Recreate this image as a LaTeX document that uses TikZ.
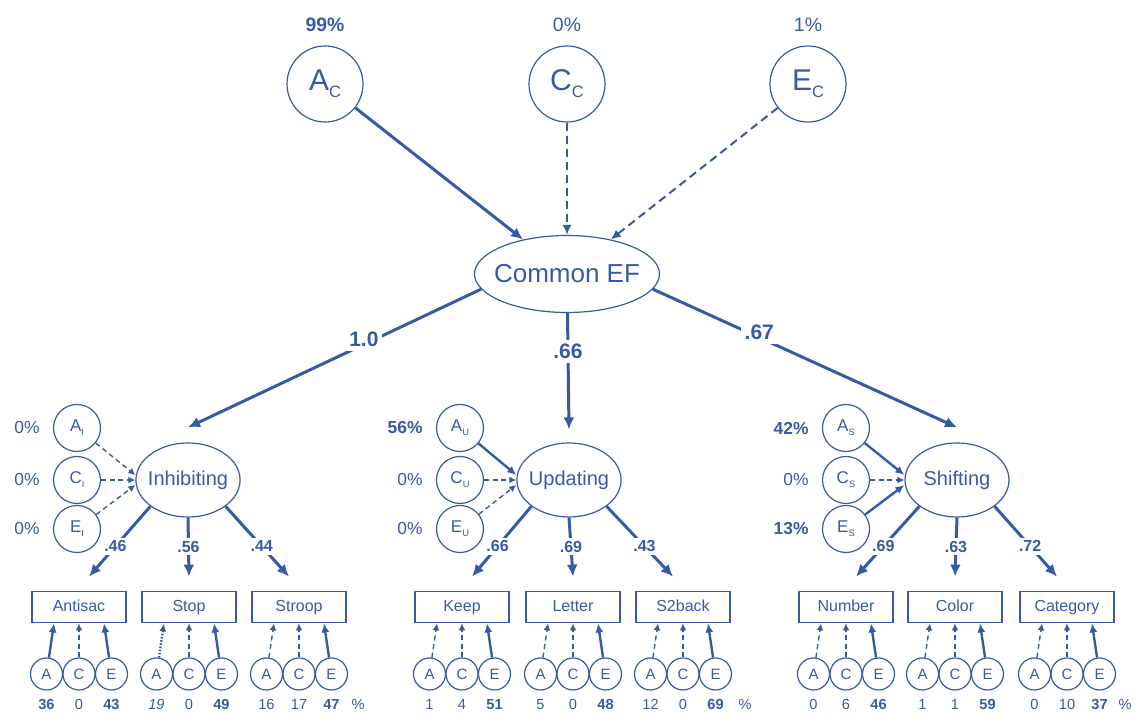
\documentclass[tikz,border=0pt]{standalone}
\usepackage{fontspec}
\setmainfont{Liberation Sans}
\usetikzlibrary{positioning,arrows.meta,shapes.geometric}
\definecolor{efblue}{RGB}{56,89,166}
\newcommand{\lowsub}[1]{\raisebox{-0.45ex}{\scalebox{0.55}{#1}}}
\tikzset{
  latent/.style={ellipse, draw, line width=0.6pt, inner sep=0pt},
  topvar/.style={circle, draw, line width=0.6pt, inner sep=0pt, minimum size=38pt, font=\fontsize{15}{15}\selectfont},
  common/.style={latent, minimum width=92.5pt, minimum height=38.5pt, inner xsep=-4pt, font=\fontsize{13}{13}\selectfont},
  factor/.style={latent, minimum width=52pt, minimum height=37pt, inner xsep=-1.6pt, font=\fontsize{10}{11}\selectfont},
  facvar/.style={circle, draw, line width=0.6pt, minimum size=23.5pt, inner sep=0pt, font=\fontsize{8.5}{9}\selectfont},
  task/.style={rectangle, draw, line width=0.9pt, minimum width=47pt, minimum height=15.5pt, inner sep=0pt, text height=6.5pt, text depth=1.8pt, font=\fontsize{8}{9}\selectfont},
  ace/.style={circle, draw, line width=0.6pt, minimum size=16pt, inner sep=0pt, font=\fontsize{7.5}{8}\selectfont},
  num/.style={anchor=base, inner sep=0pt, font=\fontsize{7.3}{8}\selectfont},
  pct/.style={inner sep=0pt, font=\fontsize{8.7}{9}\selectfont},
  toppct/.style={inner sep=0pt, font=\fontsize{9.7}{10}\selectfont},
  pathwt/.style={fill=white, inner sep=2pt, font=\bfseries\fontsize{10.5}{11}\selectfont},
  loadwt/.style={fill=white, inner sep=1.5pt, font=\bfseries\fontsize{8}{9}\selectfont},
  heavy/.style={line width=1.5pt, -{Latex[length=6pt,width=5.5pt]}},
  topns/.style={line width=1pt, dash pattern=on 4pt off 2.5pt, -{Latex[length=5pt,width=4.5pt]}},
  sigarrow/.style={line width=1.2pt, -{Latex[length=4.5pt,width=4pt]}},
  nsarrow/.style={line width=0.7pt, dash pattern=on 2.5pt off 1.8pt, -{Latex[length=3.5pt,width=3.5pt]}},
  dotarrow/.style={line width=1.2pt, dash pattern=on 0.8pt off 0.8pt, -{Latex[length=4pt,width=3.5pt]}},
}

\begin{document}
\begin{tikzpicture}[x=0.5pt, y=-0.5pt, color=efblue]
\useasboundingbox (0,0) rectangle (1137,715);

% genetic and environmental parts of Common EF
\node[topvar] (ac) at (325,84) {A\lowsub{C}};
\node[topvar] (cc) at (567,84) {C\lowsub{C}};
\node[topvar] (ec) at (808,84) {E\lowsub{C}};
\node[toppct, above=6.5pt of ac] {\textbf{99\%}};
\node[toppct, above=6.5pt of cc] {0\%};
\node[toppct, above=6.5pt of ec] {1\%};

\node[common] (cef) at (567,274) {Common EF};
\draw[heavy] (ac) -- (cef);
\draw[topns] (cc) -- (cef);
\draw[topns] (ec) -- (cef);

% the three factors
\node[factor] (inh) at (188,480) {Inhibiting};
\node[factor] (upd) at (569,480) {Updating};
\node[factor] (shf) at (957,480) {Shifting};

\draw[heavy] (cef.190) -- node[pathwt, pos=0.4, yshift=2.5pt] {1.0} ([yshift=7.5pt]inh.north);
\draw[heavy] (cef) -- node[pathwt, pos=0.33] {.66} ([yshift=6.5pt]upd.north);
\draw[heavy] (cef.350) -- node[pathwt, pos=0.35, yshift=2.5pt] {.67} ([yshift=7.5pt]shf.north);

% specific A, C, E of each factor
\node[facvar] (ai) at (77,428) {A\lowsub{I}};
\node[facvar] (ci) at (77,480) {C\lowsub{I}};
\node[facvar] (ei) at (77,529) {E\lowsub{I}};
\node[pct, left=6.5pt of ai] {0\%};
\node[pct, left=6.5pt of ci] {0\%};
\node[pct, left=6.5pt of ei] {0\%};
\draw[nsarrow] (ai) -- ([yshift=2.5pt]inh.west);
\draw[nsarrow] (ci) -- (inh.west);
\draw[nsarrow] (ei) -- ([yshift=-2.5pt]inh.west);

\node[facvar] (au) at (460,428) {A\lowsub{U}};
\node[facvar] (cu) at (460,480) {C\lowsub{U}};
\node[facvar] (eu) at (460,529) {E\lowsub{U}};
\node[pct, left=6.5pt of au] {\textbf{56\%}};
\node[pct, left=6.5pt of cu] {0\%};
\node[pct, left=6.5pt of eu] {0\%};
\draw[sigarrow] (au) -- ([yshift=2.5pt]upd.west);
\draw[nsarrow] (cu) -- (upd.west);
\draw[nsarrow] (eu) -- ([yshift=-2.5pt]upd.west);

\node[facvar] (as) at (846,428) {A\lowsub{S}};
\node[facvar] (cs) at (846,480) {C\lowsub{S}};
\node[facvar] (es) at (846,529) {E\lowsub{S}};
\node[pct, left=6.5pt of as] {\textbf{42\%}};
\node[pct, left=6.5pt of cs] {0\%};
\node[pct, left=6.5pt of es] {\textbf{13\%}};
\draw[sigarrow] (as) -- ([yshift=2.5pt]shf.west);
\draw[nsarrow] (cs) -- (shf.west);
\draw[sigarrow] (es) -- ([yshift=-2.5pt]shf.west);

% tasks with their own A, C, E
\foreach \nm/\txt/\x/\sa/\sc/\se/\na/\nc/\ne in {
  antisac/Antisac/79/sigarrow/nsarrow/sigarrow/\textbf{36}/0/\textbf{43},
  stop/Stop/189/dotarrow/nsarrow/sigarrow/\textit{19}/0/\textbf{49},
  stroop/Stroop/299/nsarrow/nsarrow/sigarrow/16/17/\textbf{47},
  keep/Keep/462/nsarrow/nsarrow/sigarrow/1/4/\textbf{51},
  letter/Letter/573/nsarrow/nsarrow/sigarrow/5/0/\textbf{48},
  s2back/S2back/683/nsarrow/nsarrow/sigarrow/12/0/\textbf{69},
  number/Number/846/nsarrow/nsarrow/sigarrow/0/6/\textbf{46},
  color/Color/955/nsarrow/nsarrow/sigarrow/1/1/\textbf{59},
  category/Category/1067/nsarrow/nsarrow/sigarrow/0/10/\textbf{37}}{
  \node[task] (\nm) at (\x,607) {\txt};
  \node[ace] (\nm-a) at ({\x-32.5},674) {A};
  \node[ace] (\nm-c) at (\x,674) {C};
  \node[ace] (\nm-e) at ({\x+32.5},674) {E};
  \draw[\sa] (\nm-a) -- ([xshift=-12.5pt]\nm.south);
  \draw[\sc] (\nm-c) -- (\nm.south);
  \draw[\se] (\nm-e) -- ([xshift=12.5pt]\nm.south);
  \node[num] at ({\x-32.5},710) {\na};
  \node[num] at (\x,710) {\nc};
  \node[num] at ({\x+32.5},710) {\ne};
}
\node[num] at (358,710) {\%};
\node[num] at (745,710) {\%};
\node[num] at (1125,710) {\%};

% factor loadings
\draw[heavy] (inh.215) -- node[loadwt, pos=0.57] {.46} ([xshift=5pt,yshift=7pt]antisac.north);
\draw[heavy] (inh.south) -- node[loadwt, pos=0.49] {.56} ([yshift=7pt]stop.north);
\draw[heavy] (inh.325) -- node[loadwt, pos=0.57] {.44} ([xshift=-5pt,yshift=7pt]stroop.north);
\draw[heavy] (upd.215) -- node[loadwt, pos=0.57] {.66} ([xshift=5pt,yshift=7pt]keep.north);
\draw[heavy] (upd.south) -- node[loadwt, pos=0.49] {.69} ([yshift=7pt]letter.north);
\draw[heavy] (upd.325) -- node[loadwt, pos=0.57] {.43} ([xshift=-5pt,yshift=7pt]s2back.north);
\draw[heavy] (shf.215) -- node[loadwt, pos=0.57] {.69} ([xshift=5pt,yshift=7pt]number.north);
\draw[heavy] (shf.south) -- node[loadwt, pos=0.49] {.63} ([yshift=7pt]color.north);
\draw[heavy] (shf.325) -- node[loadwt, pos=0.57] {.72} ([xshift=-5pt,yshift=7pt]category.north);
\end{tikzpicture}
\end{document}
